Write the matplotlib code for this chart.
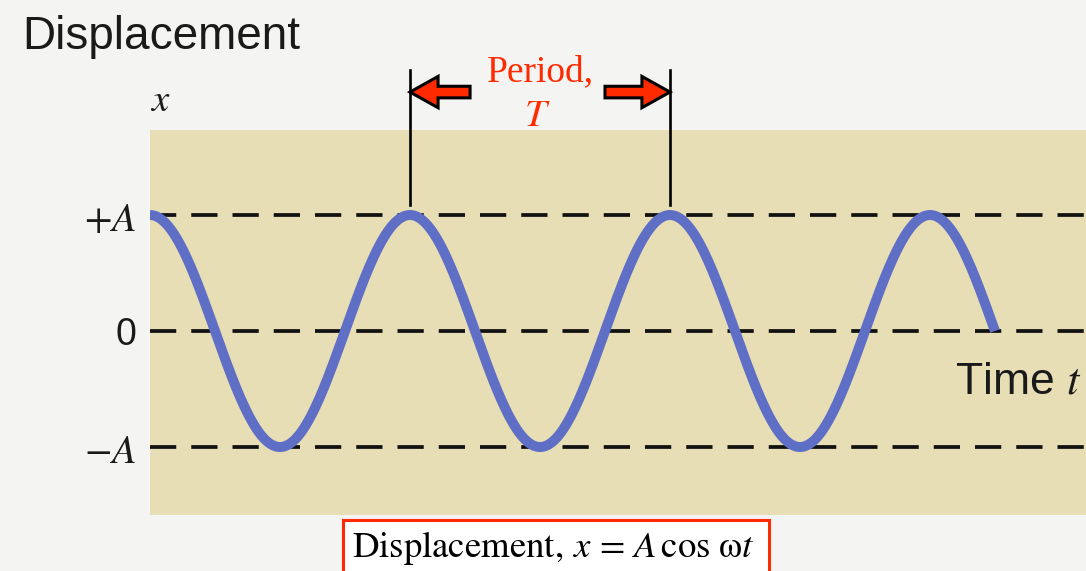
import numpy as np
import matplotlib
matplotlib.use("Agg")
import matplotlib.pyplot as plt
from matplotlib.patches import FancyArrow, Rectangle

plt.rcParams["mathtext.fontset"] = "stix"

# chart values (time in units of the period T, displacement in units of A)
amplitude = 1.0
period = 1.0
t_end = 3.25
level_values = [1.0, 0.0, -1.0]
level_labels = ["$+A$", "0", "$-A$"]
period_marks = [1.0, 2.0]

t = np.linspace(0, t_end, 600)
x = amplitude * np.cos(2 * np.pi * t / period)

fig = plt.figure(figsize=(10.86, 5.71), dpi=100)
fig.patch.set_facecolor("#f4f4f2")

# plot panel = beige rectangle
ax = fig.add_axes([150 / 1086, 56 / 571, 936 / 1086, 385 / 571])
ax.set_facecolor("#e8deb5")
ax.set_xlim(0, 3.6)
ax.set_ylim(-1.586, 1.733)
for s in ax.spines.values():
    s.set_visible(False)
ax.set_xticks([])

for lv in level_values:
    ax.axhline(lv, color="#111111", lw=2.7, dashes=(7, 4), zorder=2)

ax.plot(t, x, color="#5f6fc6", lw=7.2, solid_capstyle="butt", zorder=3)

ax.set_yticks(level_values)
ax.set_yticklabels(level_labels)
ax.tick_params(axis="y", length=0, pad=10)
for lbl, txt in zip(ax.get_yticklabels(), level_labels):
    if txt == "0":
        lbl.set_fontfamily("Liberation Sans")
        lbl.set_fontsize(27)
    else:
        lbl.set_fontsize(29)
    lbl.set_color("#1a1a1a")

# period markers
for pm in period_marks:
    ax.plot([pm, pm], [1.086, 2.25], color="black", lw=1.9, clip_on=False, zorder=4)

arrow_y = 2.06
arrow_kw = dict(width=0.10, head_width=0.27, head_length=0.108,
                length_includes_head=True, facecolor="#ff2a00",
                edgecolor="black", lw=2.2, clip_on=False, zorder=5)
ax.add_patch(FancyArrow(1.231, arrow_y, -0.231, 0, **arrow_kw))
ax.add_patch(FancyArrow(1.75, arrow_y, 0.25, 0, **arrow_kw))

ax.text(1.5, 2.233, "Period,", color="#ff2a00", fontsize=27,
        family="Liberation Serif", ha="center", va="center")
ax.text(1.49, 1.86, "$T$", color="#ff2a00", fontsize=28,
        ha="center", va="center")

ax.text(3.096, -0.44, "Time $t$", fontsize=32, family="Liberation Sans",
        color="#1a1a1a", ha="left", va="center")

ax.text(0.0, 1.99, "$x$", fontsize=28, color="#1a1a1a", ha="left",
        va="center", clip_on=False)

fig.text(22 / 1086, 1 - 37 / 571, "Displacement", fontsize=33,
         family="Liberation Sans", color="#1a1a1a", ha="left", va="center")

# formula box at the bottom
fig.patches.append(Rectangle((343 / 1086, -0.02), 426 / 1086, 0.02 + 51 / 571,
                             transform=fig.transFigure, facecolor="white",
                             edgecolor="#ff2a00", lw=2.2))
fig.text(553 / 1086, 1 - 548 / 571,
         r"$\mathrm{Displacement},\,x\,=\,A\,\cos\,\mathrm{\omega} t$",
         fontsize=26.5, ha="center", va="center")

fig.savefig("out.png", dpi=100, facecolor=fig.get_facecolor())
